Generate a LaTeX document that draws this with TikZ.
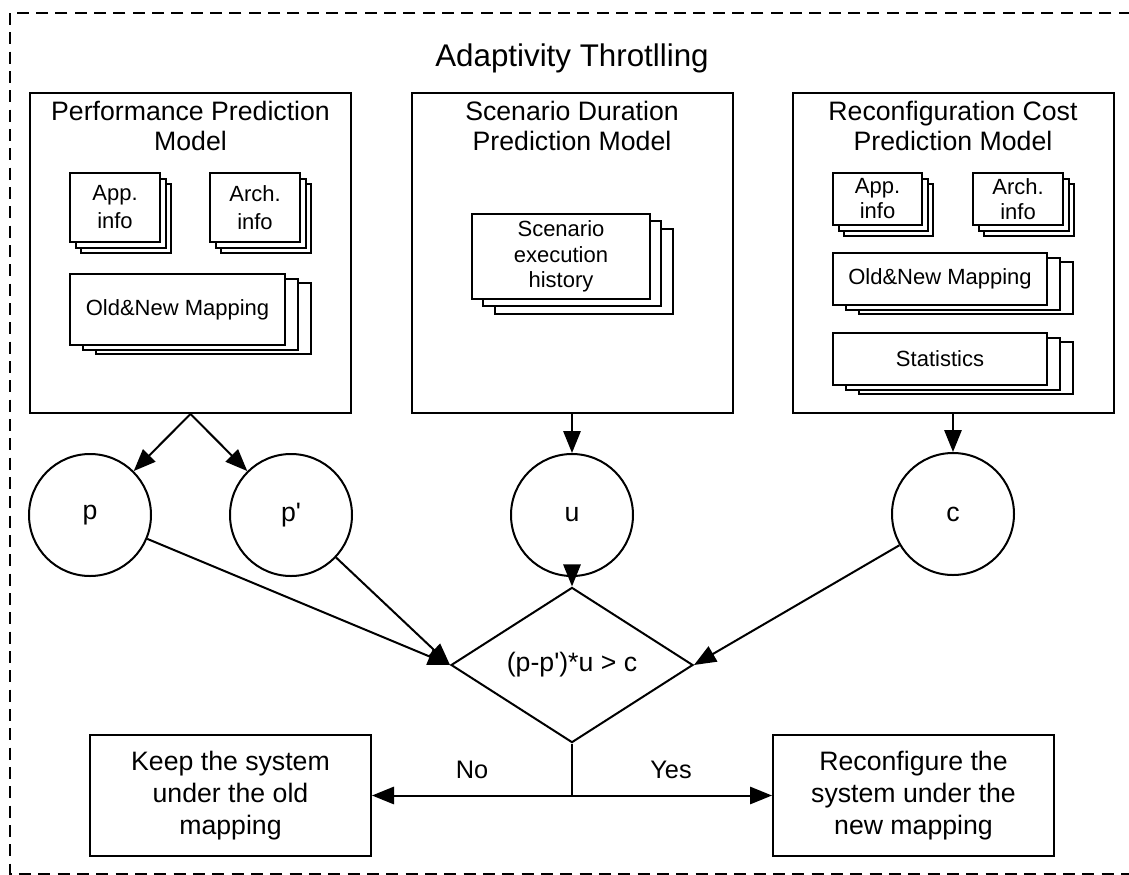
\documentclass[tikz,border=0pt]{standalone}
\usepackage{fontspec}
\setmainfont{Liberation Sans}
\usetikzlibrary{shapes.geometric,shadows,arrows.meta}
\newcommand\pxu{0.75pt}
\begin{document}
\begin{tikzpicture}[x=0.75pt,y=-0.75pt,
  every node/.style={inner sep=0pt,font=\fontsize{20}{22.5}\selectfont},
  border/.style={line width=1.4pt,dash pattern=on 9pt off 5.5pt},
  model/.style={draw,line width=1.5pt,minimum width=321*\pxu,minimum height=320*\pxu},
  mtitle/.style={align=center,anchor=north},
  docbase/.style={draw,fill=white,line width=1.4pt,align=center,font=\fontsize{16.5}{21}\selectfont},
  stackS/.style={docbase,copy shadow={shadow xshift=8.5pt,shadow yshift=-8.5pt},copy shadow={shadow xshift=4.25pt,shadow yshift=-4.25pt}},
  stackW/.style={docbase,copy shadow={shadow xshift=19.5pt,shadow yshift=-7pt},copy shadow={shadow xshift=9.75pt,shadow yshift=-3.5pt}},
  stackH/.style={docbase,copy shadow={shadow xshift=17pt,shadow yshift=-11pt},copy shadow={shadow xshift=8.5pt,shadow yshift=-5.5pt}},
  val/.style={draw,circle,line width=1.5pt,minimum size=122*\pxu},
  decide/.style={draw,diamond,line width=1.5pt,minimum width=242*\pxu,minimum height=100*\pxu},
  outcome/.style={draw,line width=1.5pt,align=center,minimum width=281*\pxu,minimum height=121*\pxu,font=\fontsize{20}{24}\selectfont},
  arr/.style={line width=1.5pt,-{Triangle[length=16.5pt,width=13pt]}},
  conn/.style={line width=1.5pt}
]
\useasboundingbox (0,0) rectangle (1129,875);
\begin{scope}
\clip (0,0) rectangle (1129,875);
\draw[border] (10,13) rectangle (1140,874);
\end{scope}

\node[anchor=base,font=\fontsize{23.5}{26}\selectfont] (title) at (572,66) {Adaptivity Throtlling};

% model boxes
\node[model] (ppm) at (190.5,253) {};
\node[model] (sdpm) at (572,253) {};
\node[model] (rcpm) at (953,253) {};
\node[mtitle] (ppmt) at (190.5,101) {Performance Prediction\\Model};
\node[mtitle] (sdpmt) at (572,101) {Scenario Duration\\Prediction Model};
\node[mtitle] (rcpmt) at (953,101) {Reconfiguration Cost\\Prediction Model};

% stacks left
\node[stackS,minimum width=90*\pxu,minimum height=69*\pxu] (app1) at (115,207.5) {App.\\info};
\node[stackS,minimum width=90*\pxu,minimum height=69*\pxu] (arch1) at (255,207.5) {Arch.\\info};
\node[stackW,minimum width=215*\pxu,minimum height=71*\pxu] (onm1) at (177.5,309.5) {Old\&New Mapping};

% stack middle
\node[stackH,minimum width=178*\pxu,minimum height=85*\pxu,font=\fontsize{16.5}{19}\selectfont] (seh) at (561,256.5) {Scenario\\execution\\history};

% stacks right
\node[stackS,minimum width=89*\pxu,minimum height=52*\pxu,font=\fontsize{16.5}{18.75}\selectfont] (app2) at (877.5,199) {App.\\info};
\node[stackS,minimum width=90*\pxu,minimum height=52*\pxu,font=\fontsize{16.5}{18.75}\selectfont] (arch2) at (1018,199) {Arch.\\info};
\node[stackW,minimum width=214*\pxu,minimum height=52*\pxu] (onm2) at (940,279) {Old\&New Mapping};
\node[stackW,minimum width=214*\pxu,minimum height=52*\pxu] (stat) at (940,359) {Statistics};

% values
\node[val] (p) at (90,515) {p};
\node[val] (pp) at (291,515) {p\textquotesingle};
\node[val] (u) at (572,515) {u};
\node[val] (c) at (953,514) {c};

% decision
\node[decide] (d) at (572,665) {(p-p\textquotesingle)*u {>} c};
\coordinate (j) at (572,795.5);

% outcomes
\node[outcome] (keep) at (230.5,795.5) {Keep the system\\under the old\\mapping};
\node[outcome] (reconf) at (913.5,795.5) {Reconfigure the\\system under the\\new mapping};

\node[font=\fontsize{19}{22}\selectfont] (no) at (472,770) {No};
\node[font=\fontsize{19}{22}\selectfont] (yes) at (671,770) {Yes};

% connectors
\draw[arr] (ppm.south) -- (p);
\draw[arr] (ppm.south) -- (pp);
\draw[arr] (sdpm.south) -- (u);
\draw[arr] (rcpm.south) -- (c);
\draw[arr] (p) -- (d.west);
\draw[arr] (pp) -- (d.west);
\draw[arr] (u) -- (d.north);
\draw[arr] (c) -- (d.east);
\draw[conn] (d.south) -- (j);
\draw[arr] (j) -- (keep.east);
\draw[arr] (j) -- (reconf.west);
\end{tikzpicture}
\end{document}
